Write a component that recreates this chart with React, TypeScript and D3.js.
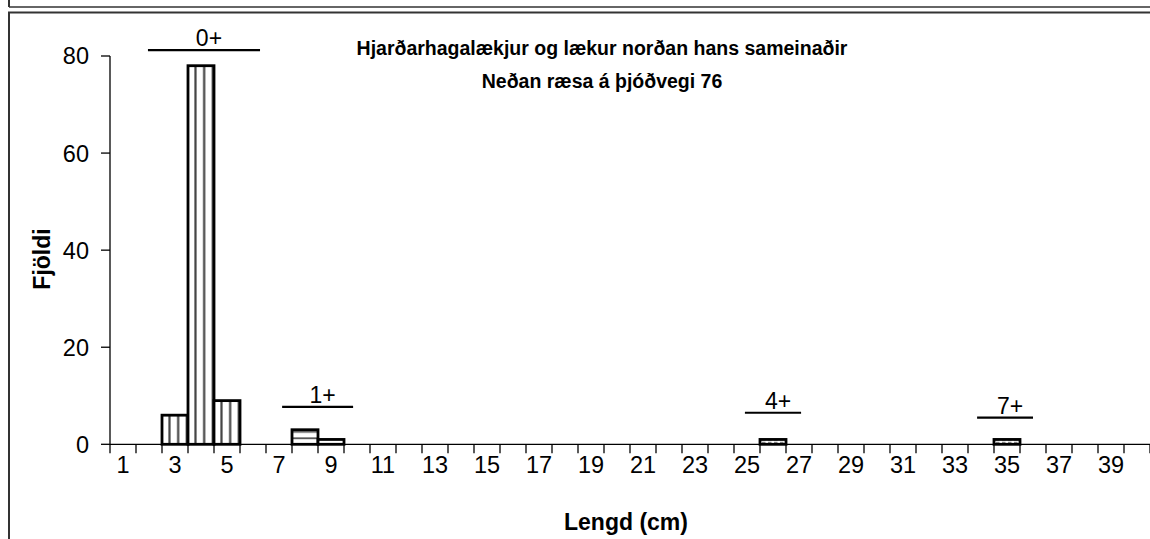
import React from "react";
import * as d3 from "d3";

const categories = [
  1, 2, 3, 4, 5, 6, 7, 8, 9, 10, 11, 12, 13, 14, 15, 16, 17, 18, 19, 20,
  21, 22, 23, 24, 25, 26, 27, 28, 29, 30, 31, 32, 33, 34, 35, 36, 37, 38, 39, 40,
];
const counts = [
  0, 0, 6, 78, 9, 0, 0, 3, 1, 0, 0, 0, 0, 0, 0, 0, 0, 0, 0, 0,
  0, 0, 0, 0, 0, 1, 0, 0, 0, 0, 0, 0, 0, 0, 1, 0, 0, 0, 0, 0,
];
// age group of each length class (pattern of bar)
const barGroup: Record<number, string> = { 3: "0+", 4: "0+", 5: "0+", 8: "1+", 9: "1+", 26: "4+", 35: "7+" };

const yTicks = [0, 20, 40, 60, 80];
const xTickLabels = categories.filter((c) => c % 2 === 1);

// age-group annotations: line from x0 to x1 (category-position units), at height y (count units)
const groupLabels = ["0+", "1+", "4+", "7+"];
const groupX0 = [1.46, 6.62, 24.42, 33.35];
const groupX1 = [5.77, 9.35, 26.58, 35.5];
const groupY = [81.2, 7.7, 6.5, 5.5];

const titleLines = ["Hjarðarhagalækjur og lækur norðan hans sameinaðir", "Neðan ræsa á þjóðvegi 76"];
const xTitle = "Lengd (cm)";
const yTitle = "Fjöldi";

const W = 1150;
const H = 539;
const left = 110;
const right = 1150;
const top = 56;
const bottom = 444.3;
const FONT = "Arial, 'Liberation Sans', sans-serif";

export default function App() {
  const x = d3.scaleBand<number>().domain(categories).range([left, right]).padding(0);
  const xLin = d3.scaleLinear().domain([0, categories.length]).range([left, right]);
  const y = d3.scaleLinear().domain([0, 80]).range([bottom, top]);
  const bw = x.bandwidth();

  const fillFor = (g: string) =>
    g === "0+" ? "url(#vstripe)" : g === "1+" ? "url(#hstripe)" : "url(#dash)";

  return (
    <svg
      width={W}
      height={H}
      style={{ position: "absolute", left: 0, top: 0, overflow: "hidden", background: "#fff" }}
      fontFamily={FONT}
    >
      <defs>
        <pattern id="vstripe" patternUnits="userSpaceOnUse" x={left + 3.2} y={0} width={bw / 3} height={10}>
          <rect width={bw / 3} height={10} fill="#fff" />
          <line x1={4.3} x2={4.3} y1={0} y2={10} stroke="#444" strokeWidth={2.2} />
        </pattern>
        <pattern id="hstripe" patternUnits="userSpaceOnUse" x={0} y={bottom - 2.5} width={10} height={6.5}>
          <rect width={10} height={6.5} fill="#fff" />
          <line x1={0} x2={10} y1={3} y2={3} stroke="#555" strokeWidth={1.8} />
        </pattern>
        <pattern id="dash" patternUnits="userSpaceOnUse" x={0} y={bottom} width={6} height={3}>
          <rect width={6} height={3} fill="#fff" />
          <line x1={0} x2={3.5} y1={1.5} y2={1.5} stroke="#666" strokeWidth={1.4} />
        </pattern>
      </defs>

      {/* frames */}
      <line x1={9} x2={W} y1={7} y2={7} stroke="#333" strokeWidth={1.5} />
      <line x1={9} x2={9} y1={0} y2={7} stroke="#333" strokeWidth={2} />
      <rect x={9} y={12.5} width={W + 20} height={H + 20} fill="none" stroke="#333" strokeWidth={2} />

      {/* bars */}
      {categories.map((c, i) =>
        counts[i] > 0 ? (
          <rect
            key={c}
            x={x(c)!}
            y={y(counts[i])}
            width={bw}
            height={bottom - y(counts[i])}
            fill={fillFor(barGroup[c])}
            stroke="#000"
            strokeWidth={2.8}
          />
        ) : null
      )}

      {/* y axis */}
      <line x1={left} x2={left} y1={top} y2={bottom} stroke="#000" strokeWidth={1.3} />
      {yTicks.map((t) => (
        <g key={t}>
          <line x1={left - 9} x2={left} y1={y(t)} y2={y(t)} stroke="#000" strokeWidth={1.3} />
          <text x={left - 21} y={y(t)} dy="0.36em" textAnchor="end" fontSize={23.5} fill="#000">
            {t}
          </text>
        </g>
      ))}

      {/* x axis */}
      <line x1={left} x2={right} y1={bottom} y2={bottom} stroke="#000" strokeWidth={1.3} />
      {d3.range(categories.length + 1).map((k) => (
        <line key={k} x1={xLin(k)} x2={xLin(k)} y1={bottom} y2={bottom + 9} stroke="#000" strokeWidth={1.3} />
      ))}
      {xTickLabels.map((c) => (
        <text key={c} x={x(c)! + bw / 2} y={473} textAnchor="middle" fontSize={23.5} fill="#000">
          {c}
        </text>
      ))}

      {/* age group annotations */}
      {groupLabels.map((g, i) => (
        <g key={g}>
          <line
            x1={xLin(groupX0[i])}
            x2={xLin(groupX1[i])}
            y1={y(groupY[i])}
            y2={y(groupY[i])}
            stroke="#000"
            strokeWidth={2.2}
          />
          <text
            x={(xLin(groupX0[i]) + xLin(groupX1[i])) / 2 + 5}
            y={y(groupY[i]) - 4}
            textAnchor="middle"
            fontSize={23}
            fill="#000"
          >
            {g}
          </text>
        </g>
      ))}

      {/* titles */}
      {titleLines.map((t, i) => (
        <text key={i} x={602} y={55 + i * 33} textAnchor="middle" fontSize={19.5} fontWeight="bold" fill="#000">
          {t}
        </text>
      ))}
      <text x={626} y={530} textAnchor="middle" fontSize={23} fontWeight="bold" fill="#000">
        {xTitle}
      </text>
      <text
        transform={`translate(50, 259) rotate(-90)`}
        textAnchor="middle"
        fontSize={23}
        fontWeight="bold"
        fill="#000"
      >
        {yTitle}
      </text>
    </svg>
  );
}
